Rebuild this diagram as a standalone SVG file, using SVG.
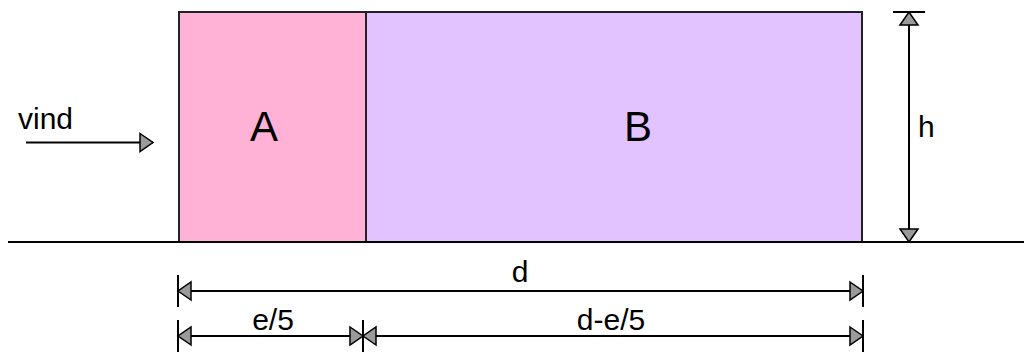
<svg xmlns="http://www.w3.org/2000/svg" width="1024" height="352" viewBox="0 0 1024 352">
<style>
.lbl{font-family:"Liberation Sans",Arial,sans-serif;fill:#000}
.big{font-size:42px}
.sm{font-size:30px}
.ln{stroke:#000;stroke-width:2;fill:none}
.box{stroke:#222;stroke-width:2}
.head{fill:#9a9a9a;stroke:#000;stroke-width:1.5;stroke-linejoin:miter}
.bar{stroke:#000;stroke-width:2}
</style>
<defs>
<marker id="tri" markerUnits="userSpaceOnUse" markerWidth="16" markerHeight="32" viewBox="0 0 16 32" refX="14" refY="16" orient="auto-start-reverse" overflow="visible">
<path class="head" d="M1,7 L14,16 L1,25 Z"/>
</marker>
<marker id="triBar" markerUnits="userSpaceOnUse" markerWidth="16" markerHeight="32" viewBox="0 0 16 32" refX="14" refY="16" orient="auto-start-reverse" overflow="visible">
<path class="head" d="M1,7 L14,16 L1,25 Z"/>
<path class="bar" d="M14,0 V32"/>
</marker>
</defs>
<rect width="1024" height="352" fill="#fff"/>
<g id="nodeA">
<rect class="box" x="179" y="12" width="187" height="230" fill="#FFB2D6"/>
<text class="lbl big" x="264" y="141" text-anchor="middle">A</text>
</g>
<g id="nodeB">
<rect class="box" x="366" y="12" width="496" height="230" fill="#E3C3FF"/>
<text class="lbl big" x="638" y="141" text-anchor="middle">B</text>
</g>
<g id="ground">
<line class="ln" x1="8" y1="242" x2="1024" y2="242"/>
</g>
<g id="connectors">
<line class="ln" x1="26" y1="142.5" x2="153" y2="142.5" marker-end="url(#tri)"/>
<line class="ln" x1="909" y1="12" x2="909" y2="242" marker-start="url(#triBar)" marker-end="url(#tri)"/>
<line class="ln" x1="178" y1="291" x2="863" y2="291" marker-start="url(#triBar)" marker-end="url(#triBar)"/>
<line class="ln" x1="178" y1="336" x2="363" y2="336" marker-start="url(#triBar)" marker-end="url(#triBar)"/>
<line class="ln" x1="363" y1="336" x2="863" y2="336" marker-start="url(#triBar)" marker-end="url(#triBar)"/>
</g>
<g id="labels">
<text class="lbl sm" x="18" y="129">vind</text>
<text class="lbl sm" x="918" y="137">h</text>
<text class="lbl sm" x="520" y="282" text-anchor="middle">d</text>
<text class="lbl sm" x="273" y="330" text-anchor="middle">e/5</text>
<text class="lbl sm" x="611" y="330" text-anchor="middle">d-e/5</text>
</g>
</svg>
